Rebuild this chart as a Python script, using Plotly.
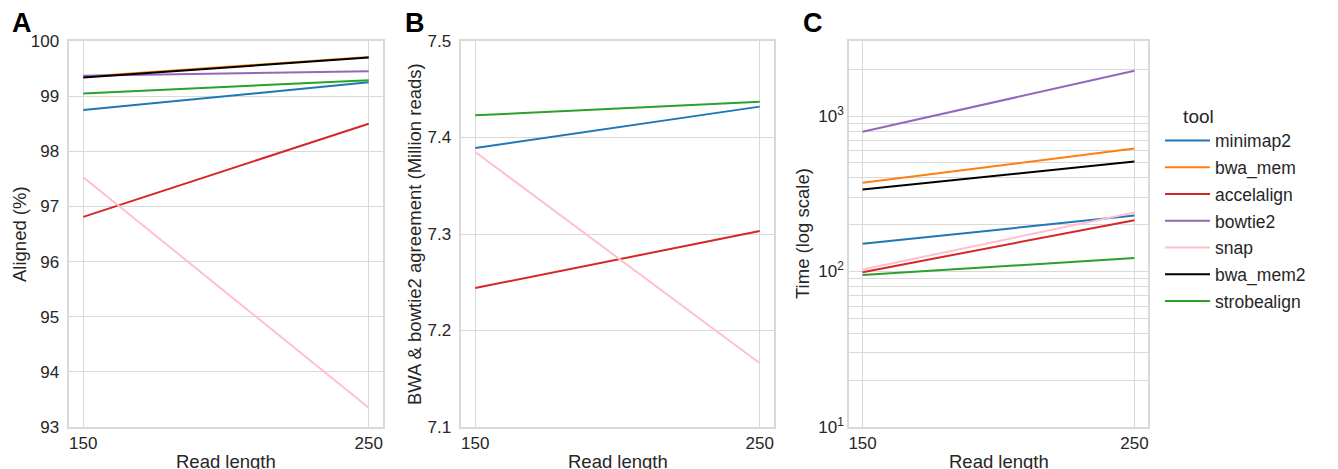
import plotly.graph_objects as go

W, H = 1338, 469
OX, OY = 8, 8  # page body offset of the plot div

read_length = [150, 250]
tools = ["minimap2", "bwa_mem", "accelalign", "bowtie2", "snap", "bwa_mem2", "strobealign"]
colors = ["#1f77b4", "#ff7f0e", "#d62728", "#9467bd", "#ffc0cb", "#000000", "#2ca02c"]

# Panel A: Aligned (%)
aligned_150 = [98.75, 99.35, 96.81, 99.37, 97.53, 99.34, 99.05]
aligned_250 = [99.25, 99.71, 98.50, 99.45, 93.35, 99.70, 99.29]

# Panel B: BWA & bowtie2 agreement (Million reads)
agree_150 = [7.389, None, 7.244, None, 7.385, None, 7.423]
agree_250 = [7.432, None, 7.303, None, 7.166, None, 7.437]

# Panel C: Time (log scale)
time_150 = [151, 372, 99, 793, 103, 337, 95]
time_250 = [229, 619, 214, 1958, 240, 511, 122]

FONT = "Liberation Sans, Arial, Helvetica, sans-serif"
TXT = "#262626"
GRID = "#d9d9d9"

def px_x(p):
    return (p - OX) / W

def px_y(p):
    return 1 - (p - OY) / H

fig = go.Figure()

panels = [
    ("x", "y", aligned_150, aligned_250, False),
    ("x2", "y2", agree_150, agree_250, False),
    ("x3", "y3", time_150, time_250, True),
]
for xa, ya, v150, v250, show in panels:
    for i, t in enumerate(tools):
        if v150[i] is None:
            continue
        fig.add_trace(go.Scatter(
            x=read_length, y=[v150[i], v250[i]], mode="lines",
            line=dict(color=colors[i], width=2),
            name=t, legendgroup=t, showlegend=show,
            xaxis=xa, yaxis=ya,
        ))

ydom = [px_y(427), px_y(41)]
xdoms = [(69, 383), (461, 774), (849, 1148)]

common_x = dict(
    range=[145, 255], tickvals=[150, 250], ticktext=["150", "250"],
    showgrid=True, gridcolor=GRID, gridwidth=1,
    showline=True, mirror=True, linecolor=GRID, linewidth=1.5,
    zeroline=False, ticks="", automargin=False,
    tickfont=dict(size=17, color=TXT, family=FONT),
)
common_y = dict(
    showgrid=True, gridcolor=GRID, gridwidth=1,
    showline=True, mirror=True, linecolor=GRID, linewidth=1.5,
    zeroline=False, ticks="", automargin=False,
    tickfont=dict(size=17, color=TXT, family=FONT),
)

layout = dict(
    template="none",
    width=W, height=H, autosize=False,
    margin=dict(l=0, r=0, t=0, b=0, pad=0),
    paper_bgcolor="white", plot_bgcolor="white",
    font=dict(family=FONT, color=TXT),
    showlegend=True,
    legend=dict(
        x=px_x(1160), y=px_y(98), xanchor="left", yanchor="top",
        title=dict(text="\u00a0\u00a0\u00a0\u00a0tool", font=dict(size=19, color=TXT, family=FONT)),
        font=dict(size=17.5, color=TXT, family=FONT),
        tracegroupgap=1, itemwidth=45, bgcolor="rgba(0,0,0,0)", borderwidth=0,
    ),
)
for k, (a, b) in enumerate(xdoms):
    sfx = "" if k == 0 else str(k + 1)
    layout["xaxis" + sfx] = dict(common_x, domain=[px_x(a), px_x(b)], anchor="y" + sfx)

layout["yaxis"] = dict(common_y, domain=ydom, anchor="x", range=[93, 100], dtick=1, ticksuffix=" ")
layout["yaxis2"] = dict(common_y, domain=ydom, anchor="x2", range=[7.1, 7.5], dtick=0.1,
                        tickformat=".1f", ticksuffix=" ")
layout["yaxis3"] = dict(
    common_y, domain=ydom, anchor="x3", type="log", range=[1, 3.483],
    tickvals=[10, 100, 1000],
    ticktext=["10<sup>1</sup>", "10<sup>2</sup>", "10<sup>3</sup>"],
    ticksuffix=" ",
    minor=dict(
        tickvals=[20, 30, 40, 50, 60, 70, 80, 90, 200, 300, 400, 500, 600, 700, 800, 900, 2000, 3000],
        showgrid=True, gridcolor=GRID, gridwidth=1, ticks="",
    ),
)
fig.update_layout(**layout)

annots = []
# panel letters
for letter, xc in [("A", 22), ("B", 415), ("C", 813)]:
    annots.append(dict(text="<b>%s</b>" % letter, x=px_x(xc), y=px_y(23), xref="paper", yref="paper",
                       xanchor="center", yanchor="middle", showarrow=False,
                       font=dict(size=27, color="#000000", family=FONT)))
# x titles
for (a, b) in xdoms:
    annots.append(dict(text="Read length", x=px_x((a + b) / 2), y=px_y(461), xref="paper", yref="paper",
                       xanchor="center", yanchor="middle", showarrow=False,
                       font=dict(size=18.5, color=TXT, family=FONT)))
# y titles
for txt, xc in [("Aligned (%)", 20), ("BWA & bowtie2 agreement (Million reads)", 415), ("Time (log scale)", 803)]:
    annots.append(dict(text=txt, x=px_x(xc), y=px_y(234), xref="paper", yref="paper",
                       xanchor="center", yanchor="middle", showarrow=False, textangle=-90,
                       font=dict(size=18.5, color=TXT, family=FONT)))
fig.update_layout(annotations=annots)

fig.write_html("out.html")
